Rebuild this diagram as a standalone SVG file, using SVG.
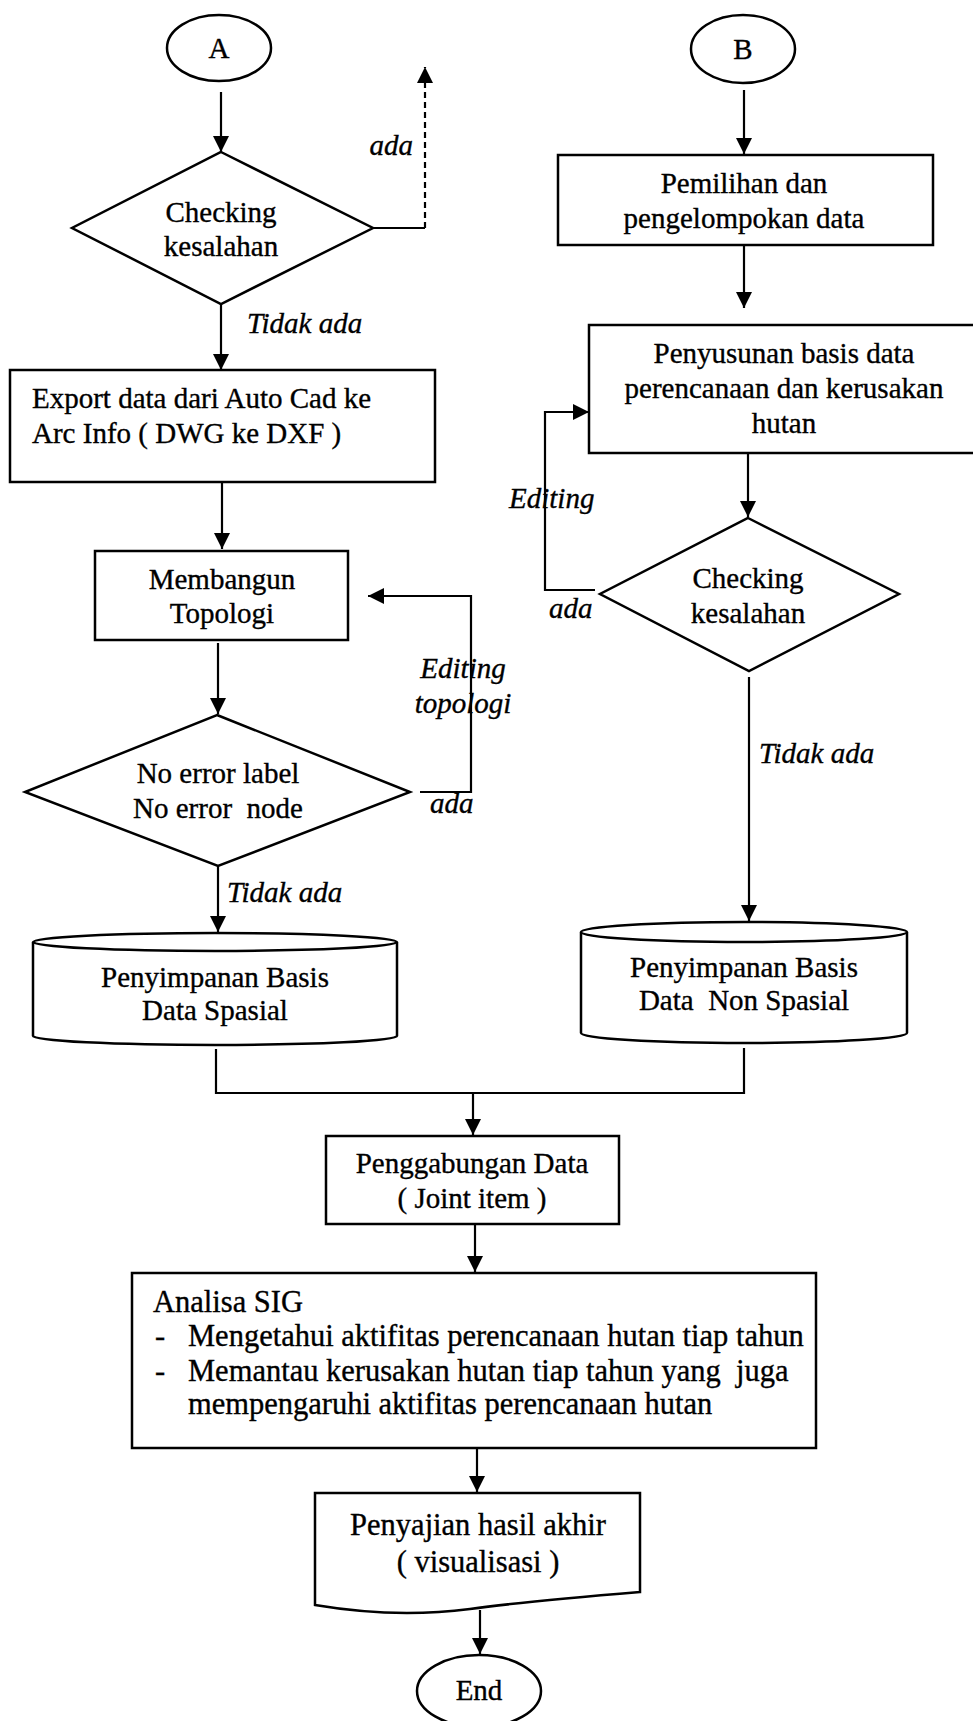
<svg xmlns="http://www.w3.org/2000/svg" width="973" height="1721" viewBox="0 0 973 1721">
<style>
  .shape { fill: #fff; stroke: #000; stroke-width: 2.5; }
  .ln { fill: none; stroke: #000; stroke-width: 2.2; }
  .dash { fill: none; stroke: #000; stroke-width: 2.2; stroke-dasharray: 6 4; }
  .t { font-family: "Liberation Serif", "Times New Roman", serif; font-size: 29px; fill: #000; stroke: #000; stroke-width: 0.35; }
  .big { font-size: 30.5px; }
  .c { text-anchor: middle; }
  .lbl { font-family: "Liberation Serif", "Times New Roman", serif; font-size: 29px; font-style: italic; fill: #000; stroke: #000; stroke-width: 0.35; }
</style>
<defs>
  <marker id="ah" markerUnits="userSpaceOnUse" markerWidth="18" markerHeight="18" refX="16" refY="8" orient="auto">
    <path d="M0,0 L16,8 L0,16 z" fill="#000" stroke="none"/>
  </marker>
</defs>
<rect width="973" height="1721" fill="#fff"/>

<g id="nodeA">
  <ellipse class="shape" cx="219" cy="48" rx="52" ry="33"/>
  <text class="t c" x="219" y="58">A</text>
</g>
<g id="nodeB">
  <ellipse class="shape" cx="743" cy="49" rx="52" ry="34"/>
  <text class="t c" x="743" y="59">B</text>
</g>
<g id="check1">
  <polygon class="shape" points="221,152 373,228 221,304 72,228"/>
  <text class="t c" x="221" y="222">Checking</text>
  <text class="t c" x="221" y="256">kesalahan</text>
</g>
<g id="export">
  <rect class="shape" x="10" y="370" width="425" height="112"/>
  <text class="t" x="32" y="408">Export data dari Auto Cad ke</text>
  <text class="t" x="32" y="443">Arc Info ( DWG ke DXF )</text>
</g>
<g id="membangun">
  <rect class="shape" x="95" y="551" width="253" height="89"/>
  <text class="t c" x="222" y="589">Membangun</text>
  <text class="t c" x="222" y="623">Topologi</text>
</g>
<g id="noerror">
  <polygon class="shape" points="217,715 410,792 218,866 25,792"/>
  <text class="t c" x="218" y="783">No error label</text>
  <text class="t c" x="218" y="818" xml:space="preserve">No error  node</text>
</g>
<g id="cyl1">
  <path class="shape" d="M33,942 V1036 A182,9 0 0,0 397,1036 V942"/>
  <ellipse class="shape" cx="215" cy="942" rx="182" ry="9"/>
  <text class="t c" x="215" y="987">Penyimpanan Basis</text>
  <text class="t c" x="215" y="1020">Data Spasial</text>
</g>
<g id="pemilihan">
  <rect class="shape" x="558" y="155" width="375" height="90"/>
  <text class="t c" x="744" y="193">Pemilihan dan</text>
  <text class="t c" x="744" y="228">pengelompokan data</text>
</g>
<g id="penyusunan">
  <rect class="shape" x="589" y="325" width="400" height="128"/>
  <text class="t c" x="784" y="363">Penyusunan basis data</text>
  <text class="t c" x="784" y="398">perencanaan dan kerusakan</text>
  <text class="t c" x="784" y="433">hutan</text>
</g>
<g id="check2">
  <polygon class="shape" points="748,518 899,594 749,671 600,594"/>
  <text class="t c" x="748" y="588">Checking</text>
  <text class="t c" x="748" y="623">kesalahan</text>
</g>
<g id="cyl2">
  <path class="shape" d="M581,932 V1033 A163,10 0 0,0 907,1033 V932"/>
  <ellipse class="shape" cx="744" cy="932" rx="163" ry="10"/>
  <text class="t c" x="744" y="977">Penyimpanan Basis</text>
  <text class="t c" x="744" y="1010" xml:space="preserve">Data  Non Spasial</text>
</g>
<g id="penggabungan">
  <rect class="shape" x="326" y="1136" width="293" height="88"/>
  <text class="t c" x="472" y="1173">Penggabungan Data</text>
  <text class="t c" x="472" y="1208">( Joint item )</text>
</g>
<g id="analisa">
  <rect class="shape" x="132" y="1273" width="684" height="175"/>
  <text class="t big" x="153" y="1312">Analisa SIG</text>
  <text class="t big" x="155" y="1346">-</text>
  <text class="t big" x="188" y="1346">Mengetahui aktifitas perencanaan hutan tiap tahun</text>
  <text class="t big" x="155" y="1381">-</text>
  <text class="t big" x="188" y="1381" xml:space="preserve">Memantau kerusakan hutan tiap tahun yang  juga</text>
  <text class="t big" x="188" y="1414">mempengaruhi aktifitas perencanaan hutan</text>
</g>
<g id="penyajian">
  <path class="shape" d="M315,1493 H640 V1592 C580,1597 520,1602 470,1609 C430,1614 380,1616 315,1605 Z"/>
  <text class="t c big" x="478" y="1535">Penyajian hasil akhir</text>
  <text class="t c big" x="478" y="1572">( visualisasi )</text>
</g>
<g id="end">
  <ellipse class="shape" cx="479" cy="1691" rx="62" ry="36"/>
  <text class="t c" x="479" y="1700">End</text>
</g>

<g id="connectors">
  <path class="ln" d="M221,92 V152" marker-end="url(#ah)"/>
  <path class="ln" d="M374,228 H425"/>
  <path class="dash" d="M425,228 V67" marker-end="url(#ah)"/>
  <path class="ln" d="M221,304 V370" marker-end="url(#ah)"/>
  <path class="ln" d="M222,482 V549" marker-end="url(#ah)"/>
  <path class="ln" d="M218,643 V714" marker-end="url(#ah)"/>
  <path class="ln" d="M420,792 H471 V596 H368" marker-end="url(#ah)"/>
  <path class="ln" d="M218,866 V932" marker-end="url(#ah)"/>
  <path class="ln" d="M744,90 V154" marker-end="url(#ah)"/>
  <path class="ln" d="M744,245 V308" marker-end="url(#ah)"/>
  <path class="ln" d="M748,453 V517" marker-end="url(#ah)"/>
  <path class="ln" d="M595,590 H545 V412 H589" marker-end="url(#ah)"/>
  <path class="ln" d="M749,677 V921" marker-end="url(#ah)"/>
  <path class="ln" d="M216,1049 V1093 H744 V1048"/>
  <path class="ln" d="M473,1093 V1135" marker-end="url(#ah)"/>
  <path class="ln" d="M475,1224 V1272" marker-end="url(#ah)"/>
  <path class="ln" d="M477,1448 V1492" marker-end="url(#ah)"/>
  <path class="ln" d="M480,1610 V1654" marker-end="url(#ah)"/>
</g>

<g id="labels">
  <text class="lbl" x="413" y="155" text-anchor="end">ada</text>
  <text class="lbl" x="247" y="333">Tidak ada</text>
  <text class="lbl" x="463" y="678" text-anchor="middle">Editing</text>
  <text class="lbl" x="463" y="713" text-anchor="middle">topologi</text>
  <text class="lbl" x="430" y="813">ada</text>
  <text class="lbl" x="227" y="902">Tidak ada</text>
  <text class="lbl" x="509" y="508">Editing</text>
  <text class="lbl" x="549" y="618">ada</text>
  <text class="lbl" x="759" y="763">Tidak ada</text>
</g>
</svg>
